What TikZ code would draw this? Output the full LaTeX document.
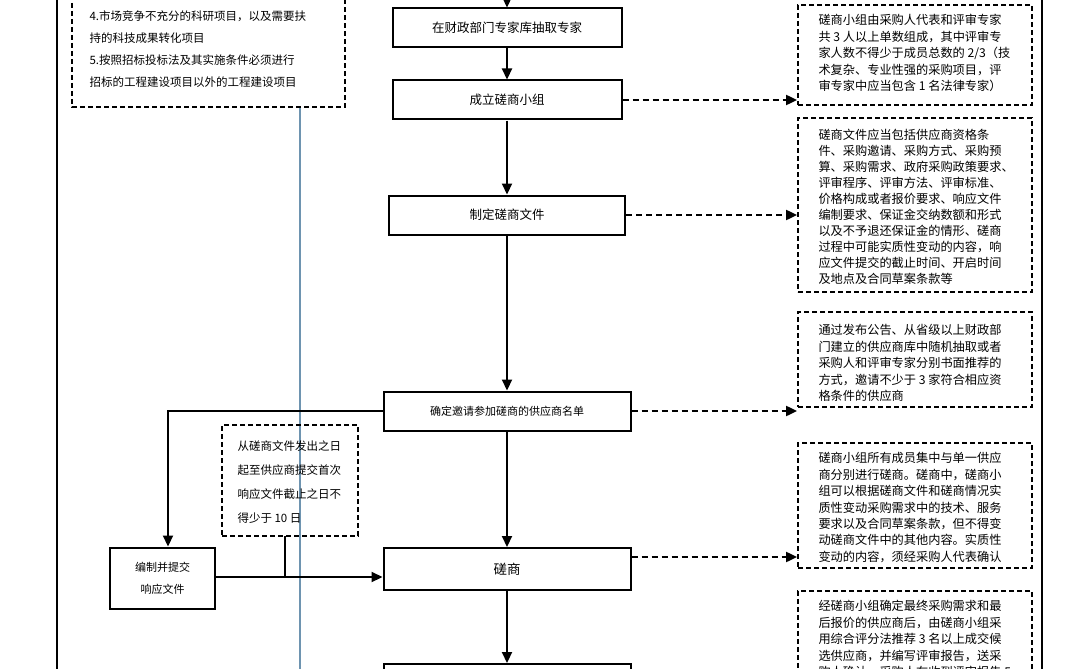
\documentclass[tikz,border=0pt]{standalone}
\usepackage{fontspec}
\setmainfont{Noto Sans CJK SC}
\usetikzlibrary{arrows.meta}
\definecolor{steel}{RGB}{110,148,176}
\begin{document}
\begin{tikzpicture}[x=1pt,y=-1pt,
  mbox/.style={draw,line width=2pt,minimum height=39pt,font=\fontsize{12.5}{14}\selectfont},
  note/.style={draw,dash pattern=on 5pt off 3pt,line width=1.8pt,align=left,inner sep=0pt},
  ntext/.style={font=\fontsize{12.2}{16.4}\selectfont,align=left,anchor=north west},
  flow/.style={line width=2.2pt,-{Triangle[length=11pt,width=10pt]}},
  dflow/.style={line width=2pt,dash pattern=on 6pt off 4pt,-{Triangle[length=11pt,width=10pt]}}]
\useasboundingbox (0,0) rectangle (1080,669);
\clip (0,0) rectangle (1080,669);
\fill[white] (0,0) rectangle (1080,669);
% frame
\draw[line width=2pt] (57,-5) -- (57,680);
\draw[line width=2pt] (1042,-5) -- (1042,680);
% blue line
\draw[line width=1.6pt,color=steel] (300,107) -- (300,680);
% main boxes
\node[mbox,minimum width=229pt] (a) at (507,28) {在财政部门专家库抽取专家};
\node[mbox,minimum width=229pt] (b) at (507,100) {成立磋商小组};
\node[mbox,minimum width=236pt] (c) at (507,215) {制定磋商文件};
\node[mbox,minimum width=247pt,font=\fontsize{11}{13}\selectfont] (d) at (507,411) {确定邀请参加磋商的供应商名单};
\node[mbox,minimum width=247pt,minimum height=42pt,font=\fontsize{13.5}{15}\selectfont] (e) at (507,569) {磋商};
\node[mbox,minimum width=247pt,minimum height=42pt,anchor=north] (f) at (507,663) {};
\node[mbox,minimum width=105pt,minimum height=61pt,align=center,font=\fontsize{11}{22}\selectfont] (g) at (162.5,578) {编制并提交\\响应文件};
\coordinate (top) at (507,-5);
\draw[flow] (top) -- (a);
\draw[flow] (a) -- (b);
\draw[flow] (b) -- (c);
\draw[flow] (c) -- (d);
\draw[flow] (d) -- (e);
\draw[flow] (e) -- (f);
\coordinate (k1) at (168,411);
\draw[flow] (d.west) -- (k1) -- (k1 |- g.north);
\draw[flow] (g.east |- 0,577) -- (e.west |- 0,577);
% top-left note
\draw[note] (72,-5) rectangle (345,107);
\node[ntext,font=\fontsize{11.5}{22}\selectfont] (tl) at (86,7) {4.市场竞争不充分的科研项目，以及需要扶\\持的科技成果转化项目\\5.按照招标投标法及其实施条件必须进行\\招标的工程建设项目以外的工程建设项目};
% middle note
\node[note,minimum width=136pt,minimum height=111pt] (m) at (290,480.5) {};
\node[ntext,font=\fontsize{11.5}{24}\selectfont] at (234,437) {从磋商文件发出之日\\起至供应商提交首次\\响应文件截止之日不\\得少于 10 日};
\coordinate (m1) at (285,577);
\draw[line width=2pt] (285,536) -- (m1);
% right notes
\node[note,minimum width=234pt,minimum height=100pt] (r1) at (915,55) {};
\node[ntext] at (815,11) {磋商小组由采购人代表和评审专家\\共 3 人以上单数组成，其中评审专\\家人数不得少于成员总数的 2/3（技\\术复杂、专业性强的采购项目，评\\审专家中应当包含 1 名法律专家）};
\node[note,minimum width=234pt,minimum height=174pt] (r2) at (915,205) {};
\node[ntext,font=\fontsize{12.2}{16}\selectfont] at (815,126) {磋商文件应当包括供应商资格条\\件、采购邀请、采购方式、采购预\\算、采购需求、政府采购政策要求、\\评审程序、评审方法、评审标准、\\价格构成或者报价要求、响应文件\\编制要求、保证金交纳数额和形式\\以及不予退还保证金的情形、磋商\\过程中可能实质性变动的内容，响\\应文件提交的截止时间、开启时间\\及地点及合同草案条款等};
\node[note,minimum width=234pt,minimum height=95pt] (r3) at (915,359.5) {};
\node[ntext] at (815,321) {通过发布公告、从省级以上财政部\\门建立的供应商库中随机抽取或者\\采购人和评审专家分别书面推荐的\\方式，邀请不少于 3 家符合相应资\\格条件的供应商};
\node[note,minimum width=234pt,minimum height=125pt] (r4) at (915,505.5) {};
\node[ntext] at (815,449) {磋商小组所有成员集中与单一供应\\商分别进行磋商。磋商中，磋商小\\组可以根据磋商文件和磋商情况实\\质性变动采购需求中的技术、服务\\要求以及合同草案条款，但不得变\\动磋商文件中的其他内容。实质性\\变动的内容，须经采购人代表确认};
\node[note,minimum width=234pt,minimum height=100pt,anchor=north] (r5) at (915,590) {};
\node[ntext] at (815,597) {经磋商小组确定最终采购需求和最\\后报价的供应商后，由磋商小组采\\用综合评分法推荐 3 名以上成交候\\选供应商，并编写评审报告，送采\\购人确认，采购人在收到评审报告 5};
% dashed arrows
\draw[dflow] (b.east) -- (b.east -| r1.west);
\draw[dflow] (c.east) -- (c.east -| r2.west);
\draw[dflow] (d.east) -- (d.east -| r3.west);
\draw[dflow] (e.east |- 0,557) -- (r4.west |- 0,557);
\end{tikzpicture}
\end{document}
